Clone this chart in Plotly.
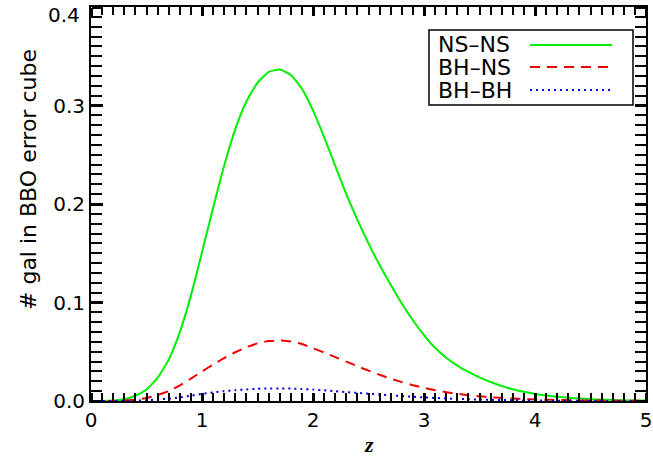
import plotly.graph_objects as go

# ---- data ----
z = [round(0.1 * i, 1) for i in range(51)]

ns_ns = [0.0, 0.0, 0.0005, 0.0018, 0.0053, 0.0117, 0.0235, 0.042, 0.070, 0.107,
         0.151, 0.196, 0.239, 0.276, 0.304, 0.323, 0.334, 0.3365, 0.331, 0.317,
         0.295, 0.268, 0.239, 0.210, 0.184, 0.160, 0.138, 0.118, 0.099, 0.082,
         0.067, 0.054, 0.044, 0.036, 0.0295, 0.024, 0.0193, 0.0153, 0.0120, 0.0093,
         0.0072, 0.0056, 0.0043, 0.0033, 0.0025, 0.0019, 0.0014, 0.0010, 0.0007, 0.0005,
         0.0004]

bh_ns = [0.0, 0.0, 0.0001, 0.0005, 0.0012, 0.0030, 0.0060, 0.0100, 0.0158, 0.0228,
         0.0300, 0.0370, 0.0436, 0.0495, 0.0546, 0.0585, 0.0608, 0.0614, 0.0604, 0.0578,
         0.0535, 0.0492, 0.0446, 0.0400, 0.0353, 0.0308, 0.0266, 0.0227, 0.0192, 0.0160,
         0.0133, 0.0110, 0.0090, 0.0073, 0.0059, 0.0048, 0.0038, 0.0031, 0.0025, 0.0020,
         0.0016, 0.0013, 0.0010, 0.0008, 0.0006, 0.0005, 0.0004, 0.0003, 0.0002, 0.0002,
         0.0001]

bh_bh = [0.0, 0.0, 0.00003, 0.00015, 0.0004, 0.0008, 0.0015, 0.0024, 0.0037, 0.0054,
         0.0072, 0.0087, 0.0100, 0.0110, 0.0118, 0.0124, 0.0127, 0.0128, 0.0126, 0.0122,
         0.0116, 0.0108, 0.0099, 0.0090, 0.0082, 0.0074, 0.0066, 0.0058, 0.0050, 0.0043,
         0.0037, 0.0031, 0.0026, 0.0022, 0.0018, 0.0015, 0.0012, 0.0010, 0.0008, 0.0006,
         0.0005, 0.0004, 0.0003, 0.0002, 0.0002, 0.0001, 0.0001, 0.0001, 0.0001, 0.0001,
         0.0001]

series_names = ["NS\u2013NS", "BH\u2013NS", "BH\u2013BH"]
x_range = [0, 5]
y_range = [0, 0.4]
top_tick_label = "0.4"
x_title = "<b><i>z</i></b>"
y_title = "# gal in BBO error cube"

# ---- styles ----
colors = ["#00ee00", "#ee0000", "#0000ee"]
dashes = ["solid", "10px,7px", "2px,4px"]
FONT = "DejaVu Sans"
TICK = "#000000"

fig = go.Figure()
for name, ys, c, d in zip(series_names, [ns_ns, bh_ns, bh_bh], colors, dashes):
    fig.add_trace(go.Scatter(x=z, y=ys, mode="lines", name=name,
                             line=dict(color=c, width=2, dash=d, shape="spline", smoothing=0.5),
                             showlegend=False))

# pixel helpers for the plot area
W, H = 653, 462
ML, MR, MT, MB = 91, 7, 7, 61
pw, ph = W - ML - MR, H - MT - MB
def px(xp):
    return (xp - ML) / pw
def py(yp):
    return 1 - (yp - MT) / ph

# manual legend (text on the left, line sample on the right)
L, R, T, B = 429, 633, 30, 105
fig.add_shape(type="rect", xref="paper", yref="paper",
              x0=px(L), x1=px(R), y0=py(B), y1=py(T),
              line=dict(color="black", width=1.5), fillcolor="white", layer="above")
rows = [45, 67, 90]
for name, c, d, ry in zip(series_names, colors, dashes, rows):
    fig.add_annotation(xref="paper", yref="paper", x=px(436), y=py(ry),
                       text=name, showarrow=False, xanchor="left", yanchor="middle",
                       font=dict(family=FONT, size=22, color="black"))
    fig.add_shape(type="line", xref="paper", yref="paper",
                  x0=px(530), x1=px(612), y0=py(ry), y1=py(ry),
                  line=dict(color=c, width=2, dash=d), layer="above")

# top y label drawn slightly lower (as in the reference)
fig.add_annotation(xref="paper", yref="paper", x=px(82), y=py(15),
                   text=top_tick_label, showarrow=False, xanchor="right", yanchor="middle",
                   font=dict(family=FONT, size=20, color="black"))
# axis titles
fig.add_annotation(xref="paper", yref="paper", x=px(369), y=py(445),
                   text=x_title, showarrow=False, xanchor="center", yanchor="middle",
                   font=dict(family="Liberation Serif", size=22, color="black"))
fig.add_annotation(xref="paper", yref="paper", x=px(28), y=py(180),
                   text=y_title, showarrow=False, textangle=-90, xanchor="center", yanchor="middle",
                   font=dict(family=FONT, size=22, color="black"))

MAJW, MINW = 2.5, 1.8

def tick_only_x(position, side):
    return dict(range=x_range, overlaying="x", anchor="free", position=position, side=side,
                dtick=1, ticks="outside", ticklen=8, tickwidth=MAJW, tickcolor=TICK,
                showticklabels=False, showline=False, showgrid=False, zeroline=False,
                minor=dict(ticks="outside", ticklen=4, tickwidth=MINW, tickcolor=TICK, dtick=0.1))

def tick_only_y(position, side):
    return dict(range=y_range, overlaying="y", anchor="free", position=position, side=side,
                dtick=0.1, ticks="outside", ticklen=11, tickwidth=MAJW, tickcolor=TICK,
                showticklabels=False, showline=False, showgrid=False, zeroline=False,
                minor=dict(ticks="outside", ticklen=6, tickwidth=MINW, tickcolor=TICK, dtick=0.01))

fig.update_layout(
    font=dict(family=FONT, size=20, color="black"),
    xaxis=dict(range=x_range, ticks="inside", ticklen=8, tickwidth=MAJW, tickcolor=TICK,
               showline=True, linecolor="black", linewidth=2, mirror="allticks", showgrid=False,
               minor=dict(ticks="inside", ticklen=4, tickwidth=MINW, tickcolor=TICK, dtick=0.1)),
    yaxis=dict(range=y_range, nticks=5, tickformat=".1f", ticks="inside", ticklen=11, tickwidth=MAJW,
               tickcolor=TICK, showline=True, linecolor="black", linewidth=2, mirror="allticks",
               showgrid=False,
               minor=dict(ticks="inside", ticklen=6, tickwidth=MINW, tickcolor=TICK, dtick=0.01)),
    # tick-only axes on the frame edges, outside ticks pointing into the plot
    xaxis3=tick_only_x(0, "top"),
    xaxis4=tick_only_x(1, "bottom"),
    yaxis3=tick_only_y(0, "right"),
    yaxis4=tick_only_y(1, "left"),
    width=W, height=H,
    margin=dict(l=ML, r=MR, t=MT, b=MB, autoexpand=False),
    plot_bgcolor="white", paper_bgcolor="white",
)
# invisible helper traces so the tick-only axes are drawn
for xa, ya in [("x3", "y"), ("x4", "y"), ("x", "y3"), ("x", "y4")]:
    fig.add_trace(go.Scatter(x=[None], y=[None], xaxis=xa, yaxis=ya, showlegend=False,
                             hoverinfo="skip"))

fig.write_html("out.html", config={"displayModeBar": False},
               post_script="document.body.style.margin='0';document.body.style.overflow='hidden';")
